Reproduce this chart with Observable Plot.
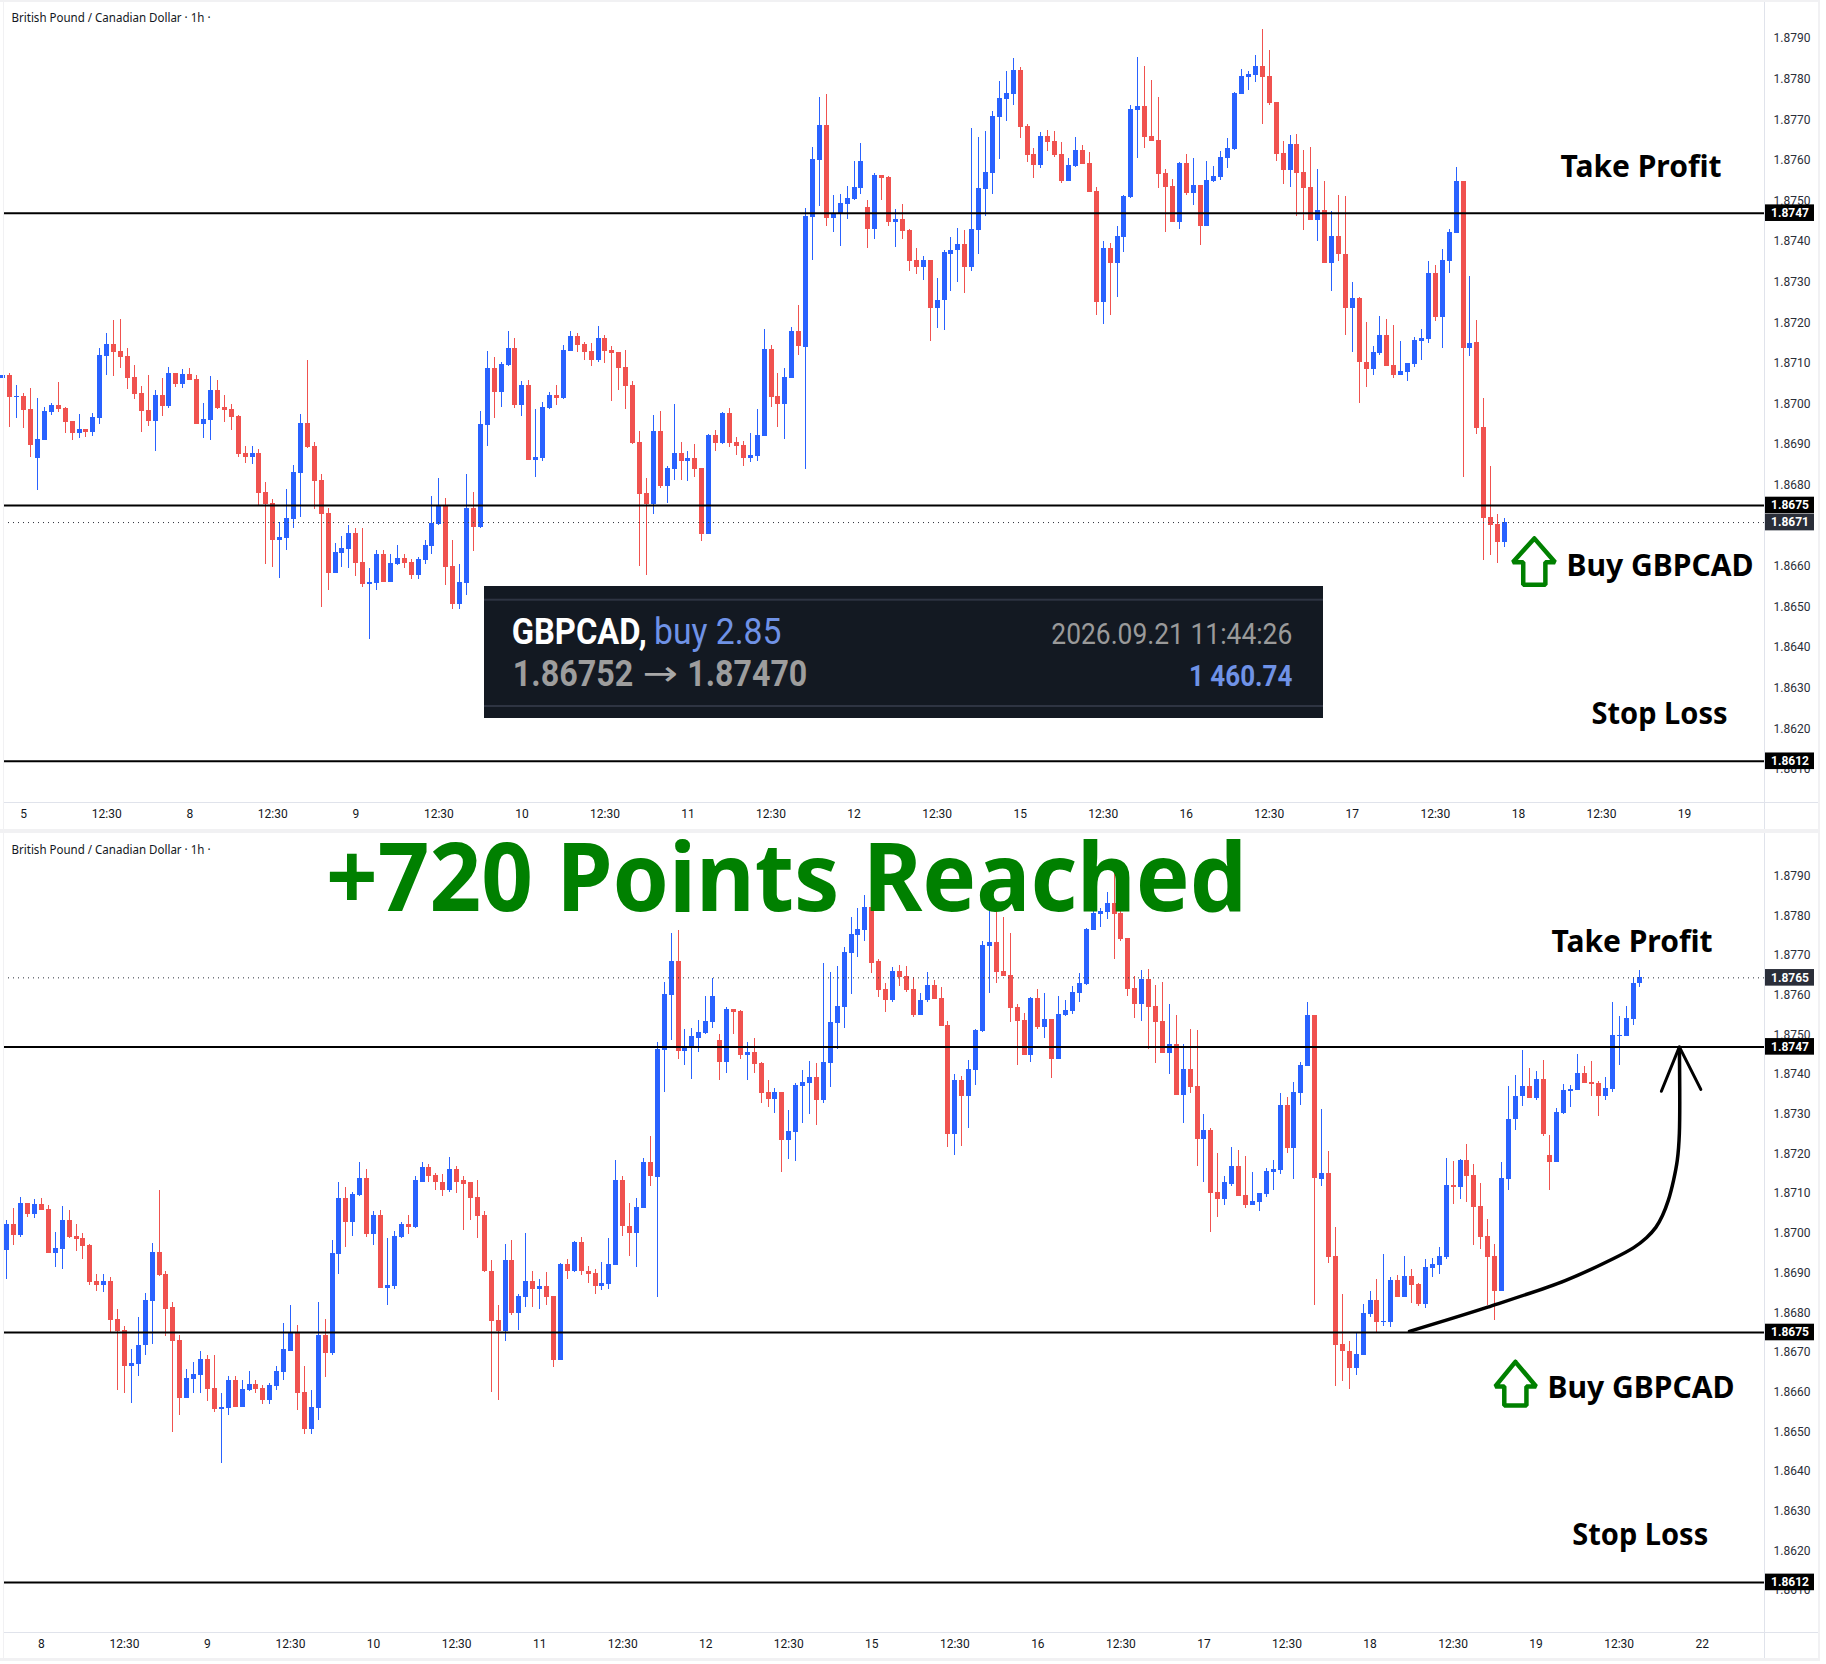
<!DOCTYPE html>
<html><head><meta charset="utf-8">
<script src="https://cdn.jsdelivr.net/npm/d3@7"></script>
<script src="https://cdn.jsdelivr.net/npm/@observablehq/plot@0.6"></script>
<style>
html,body{margin:0;padding:0;background:#fff;width:1826px;height:1664px;overflow:hidden}
#page{position:relative;width:1826px;height:1664px}
#page>svg,#page>div,#page>figure{position:absolute;margin:0}
.strip{background:#f1f1f3}
.sep{background:#e0e3eb}
</style></head><body><div id="page"></div>
<script>
// Values in pips above 1.0000 (8707.5 = 1.87075). First entry is bar index -1.
const directions = ("u "+
"d u d d u u u d d d "+
"u d u u u d d d d d "+
"d u d u d u d d u u "+
"d d d d d u d d d u "+
"u u u d d d d u u u "+
"d d u u d u u d d u "+
"u u u d d u u d u u "+
"d u u d u d u u u d "+
"u u d d d u d d d d "+
"d d d u d u u d u d "+
"d u d u d d d u u u "+
"d d u u d u u u d u "+
"u u u u d u d d u d "+
"d d u d u u u u d u "+
"u u u u u u d d d u "+
"d d d u u d d d u d "+
"u u u u d d d d d u "+
"d u d u u u u u u u "+
"u d d d d u d d d u "+
"d u d d u d d u u d "+
"d u u u u u d u u u "+
"d u d d d d u u u d "+
"u u d u d d u u u u "+
"d u d d d d d u u u "+
"u d u d d u u u u d "+
"d d u u u u u u").replace(/ /g,"");
const highs=[8707.0,
8707.5,8704.6,8702.6,8703.8,8701.4,8699.1,8700.1,8705.3,8699.1,8695.7,
8697.4,8693.7,8697.7,8713.7,8717.4,8720.6,8720.8,8713.7,8709.5,8704.3,
8707.0,8703.3,8706.3,8709.0,8707.5,8708.5,8708.7,8707.0,8700.1,8706.8,
8705.8,8702.1,8699.9,8697.2,8689.5,8689.5,8688.8,8680.7,8676.5,8670.8,
8678.9,8684.9,8697.4,8710.7,8690.5,8682.6,8674.3,8665.6,8667.4,8670.1,
8669.3,8669.3,8659.5,8663.9,8663.9,8662.9,8665.1,8662.9,8661.7,8662.2,
8666.4,8677.2,8681.7,8676.7,8666.4,8660.5,8682.6,8678.2,8698.2,8712.9,
8711.5,8710.2,8717.9,8716.1,8705.5,8705.8,8698.6,8700.4,8702.8,8704.6,
8714.4,8717.9,8717.4,8715.1,8714.9,8719.1,8716.9,8714.2,8712.7,8713.2,
8705.5,8693.2,8681.7,8697.2,8698.2,8684.6,8699.9,8690.5,8688.3,8690.0,
8684.1,8692.5,8693.5,8697.9,8698.9,8691.7,8690.8,8692.7,8698.6,8718.3,
8714.4,8707.5,8708.7,8718.8,8724.3,8748.2,8763.2,8775.5,8776.3,8751.4,
8751.7,8753.6,8759.8,8764.2,8750.2,8756.8,8756.3,8756.1,8748.0,8749.2,
8743.1,8738.4,8736.4,8735.4,8731.0,8737.7,8741.1,8743.3,8742.8,8767.9,
8765.7,8767.2,8772.1,8779.5,8781.9,8785.1,8782.9,8768.9,8763.0,8766.9,
8767.4,8767.2,8764.5,8760.5,8765.7,8763.7,8762.0,8753.4,8740.1,8739.6,
8743.6,8751.4,8773.6,8785.4,8783.1,8779.7,8775.5,8757.8,8755.4,8759.5,
8761.5,8760.5,8753.9,8759.8,8758.6,8762.2,8765.4,8776.8,8782.4,8781.9,
8785.9,8792.2,8787.1,8774.3,8764.7,8766.2,8766.4,8762.5,8763.2,8757.8,
8754.9,8747.5,8751.4,8751.2,8730.0,8726.3,8720.1,8714.2,8721.6,8720.8,
8719.3,8715.4,8710.0,8716.4,8718.3,8735.2,8734.2,8738.1,8743.1,8758.3,
8754.9,8731.3,8720.6,8701.4,8684.6,8672.8,8674.8,8682.1,8685.3,8688.4,
8694.7,8688.9,8689.4,8694.2,8690.9,8687.4,8693.4,8693.7,8696.4,8718.9,
8718.1,8718.6,8722.4,8717.4,8712.6,8703.5,8697.2,8717.9,8736.9,8739.7,
8746.2,8741.5,8740.7,8743.5,8724.6,8731.4,8737.4,8737.2,8745.2,8742.0,
8743.2,8738.2,8739.2,8758.3,8754.6,8757.1,8764.6,8766.2];
const bodyTops=[8707.0,
8707.0,8701.8,8701.8,8698.6,8691.3,8698.2,8699.6,8699.6,8698.9,8695.7,
8693.7,8693.7,8696.7,8711.9,8714.7,8714.7,8712.9,8711.7,8706.5,8702.6,
8698.4,8702.1,8702.1,8707.5,8707.5,8707.3,8707.3,8706.0,8696.2,8703.3,
8703.3,8699.1,8698.6,8696.9,8687.8,8687.8,8687.8,8678.2,8675.5,8667.1,
8671.8,8683.1,8695.2,8695.2,8689.5,8681.2,8673.0,8663.4,8664.4,8668.1,
8668.1,8661.0,8656.0,8662.9,8662.9,8660.7,8661.9,8661.9,8661.0,8661.7,
8665.1,8670.6,8675.0,8675.0,8660.0,8656.0,8674.3,8674.3,8695.0,8708.7,
8708.7,8709.7,8713.7,8713.7,8704.6,8704.6,8686.8,8699.1,8702.1,8702.1,
8713.2,8716.6,8716.6,8714.7,8712.9,8716.1,8716.1,8713.2,8712.7,8709.0,
8704.6,8690.5,8678.0,8693.2,8693.2,8684.1,8687.8,8687.8,8686.6,8686.6,
8684.1,8692.2,8692.2,8697.7,8697.7,8690.5,8689.8,8687.3,8692.2,8713.4,
8713.4,8701.8,8706.5,8717.9,8717.9,8746.3,8760.3,8768.6,8768.6,8747.0,
8749.5,8750.7,8753.4,8759.8,8748.5,8756.3,8756.3,8755.9,8745.5,8745.5,
8742.8,8735.4,8735.4,8735.4,8725.6,8737.2,8737.9,8739.4,8739.4,8743.1,
8753.1,8757.1,8770.9,8775.3,8776.5,8782.2,8782.2,8768.4,8761.5,8765.9,
8765.9,8764.7,8761.5,8758.8,8762.5,8762.5,8759.3,8752.4,8738.4,8738.4,
8741.3,8751.2,8772.6,8773.3,8773.3,8765.9,8765.0,8756.8,8753.6,8759.3,
8759.3,8753.9,8753.9,8755.1,8756.1,8760.8,8763.0,8776.5,8780.7,8781.2,
8783.1,8783.1,8780.7,8774.3,8761.8,8764.0,8764.0,8757.1,8753.4,8747.7,
8747.7,8741.3,8741.3,8736.9,8725.9,8725.9,8710.2,8712.7,8716.9,8716.9,
8709.5,8708.0,8710.0,8715.6,8716.1,8732.2,8732.2,8735.4,8742.3,8754.9,
8754.9,8715.0,8715.1,8694.2,8672.0,8670.3,8669.5,8679.8,8683.1,8683.1,
8677.8,8688.1,8688.1,8689.1,8689.1,8687.1,8691.4,8692.1,8694.2,8712.1,
8712.1,8718.4,8718.4,8714.6,8706.8,8699.2,8694.2,8713.8,8728.8,8734.6,
8736.9,8736.9,8738.9,8738.9,8719.5,8730.4,8735.9,8736.2,8740.4,8740.4,
8737.9,8737.7,8736.4,8749.8,8749.8,8754.1,8763.1,8764.6];
const bodyBottoms=[8706.4,
8701.6,8701.6,8698.4,8689.8,8686.6,8691.0,8697.9,8698.6,8695.4,8692.7,
8692.7,8693.0,8693.0,8696.4,8711.7,8712.7,8711.5,8706.3,8702.3,8698.2,
8695.7,8695.7,8699.4,8699.4,8704.8,8704.8,8705.8,8695.0,8695.0,8695.9,
8698.9,8698.4,8696.7,8687.6,8686.8,8686.8,8678.0,8675.2,8666.4,8666.4,
8666.9,8671.6,8682.9,8689.3,8680.9,8672.8,8658.3,8658.3,8663.2,8664.2,
8660.7,8655.5,8655.5,8655.8,8656.0,8656.0,8660.5,8660.7,8657.8,8657.8,
8661.5,8664.9,8670.3,8659.7,8650.6,8650.6,8655.8,8669.6,8669.6,8694.7,
8702.8,8702.8,8709.5,8699.6,8699.6,8686.1,8686.1,8686.6,8698.9,8701.4,
8701.4,8712.9,8714.4,8712.7,8710.7,8710.7,8712.9,8712.4,8708.7,8704.3,
8690.3,8677.7,8675.2,8675.2,8679.7,8679.7,8683.9,8685.8,8685.8,8683.9,
8667.9,8667.9,8690.3,8690.3,8690.3,8689.5,8686.6,8686.6,8687.1,8692.0,
8701.6,8699.9,8699.9,8706.3,8714.2,8714.0,8746.0,8760.0,8745.8,8745.8,
8746.8,8749.2,8750.4,8753.1,8743.1,8743.1,8755.6,8744.8,8744.8,8742.6,
8735.2,8733.7,8733.7,8723.4,8723.4,8725.4,8736.9,8737.7,8733.5,8733.5,
8742.8,8752.9,8756.8,8770.6,8775.0,8776.3,8768.1,8761.3,8758.8,8758.8,
8764.5,8761.3,8754.9,8754.9,8758.6,8759.0,8752.2,8724.9,8724.9,8734.5,
8734.5,8741.1,8750.9,8772.3,8765.7,8764.7,8756.6,8753.4,8744.8,8744.8,
8751.9,8751.9,8743.8,8743.8,8754.9,8755.9,8760.5,8762.7,8776.3,8780.4,
8780.9,8780.4,8774.0,8761.5,8757.6,8757.6,8756.8,8753.1,8745.3,8745.3,
8734.7,8734.7,8736.7,8723.6,8723.6,8710.1,8708.5,8708.5,8712.4,8709.2,
8707.0,8707.0,8707.8,8709.7,8715.4,8715.8,8721.4,8721.4,8735.2,8742.1,
8713.7,8713.6,8694.0,8671.8,8670.1,8665.9,8665.9,8669.2,8679.5,8677.5,
8677.5,8677.5,8683.8,8683.8,8686.8,8682.1,8682.1,8691.1,8691.9,8693.9,
8711.6,8711.6,8714.3,8706.5,8698.9,8693.9,8685.3,8685.3,8713.5,8728.6,
8734.4,8734.1,8734.1,8724.8,8717.8,8717.8,8730.1,8735.7,8735.9,8737.7,
8737.4,8734.4,8734.4,8736.2,8749.5,8749.5,8753.8,8762.9];
const lows=[8706.4,
8694.2,8696.4,8694.0,8686.8,8678.7,8691.0,8697.2,8697.9,8692.7,8691.0,
8691.5,8691.7,8692.0,8695.0,8707.0,8706.8,8708.7,8703.6,8701.1,8693.0,
8694.5,8688.3,8696.9,8698.9,8704.1,8703.8,8705.8,8695.0,8691.5,8691.0,
8698.6,8695.4,8693.5,8686.8,8685.3,8685.1,8674.8,8660.5,8659.7,8657.0,
8663.9,8669.3,8672.0,8689.0,8674.0,8649.9,8654.1,8658.3,8659.7,8659.5,
8657.5,8654.8,8642.0,8654.1,8656.0,8656.0,8660.2,8659.5,8656.8,8656.8,
8660.5,8662.9,8670.1,8655.3,8649.4,8649.4,8652.8,8663.7,8669.3,8689.5,
8696.4,8699.1,8709.2,8698.9,8696.9,8686.1,8681.9,8685.8,8698.6,8699.6,
8701.1,8712.9,8712.7,8710.7,8709.2,8710.2,8710.0,8700.6,8703.3,8698.6,
8690.0,8660.0,8657.8,8672.8,8679.2,8675.5,8681.2,8681.2,8680.9,8681.9,
8666.1,8667.9,8688.3,8690.0,8689.3,8687.3,8684.6,8685.6,8685.8,8692.0,
8699.1,8694.2,8691.3,8706.3,8711.9,8683.9,8735.4,8748.7,8743.8,8742.3,
8738.9,8745.5,8750.2,8751.7,8738.4,8740.4,8750.2,8743.8,8738.6,8740.4,
8732.7,8731.8,8730.3,8715.3,8718.5,8718.0,8727.6,8730.0,8727.3,8732.7,
8736.7,8746.3,8751.7,8760.3,8769.6,8773.6,8765.4,8759.5,8755.6,8758.1,
8762.2,8760.8,8754.4,8754.9,8758.3,8759.0,8752.2,8721.7,8719.7,8721.9,
8726.3,8737.2,8750.7,8760.5,8763.0,8764.7,8753.1,8742.3,8744.8,8743.1,
8751.4,8749.0,8739.1,8743.8,8754.6,8755.1,8758.1,8762.5,8776.3,8777.2,
8779.2,8768.9,8773.6,8759.8,8754.1,8753.4,8746.3,8742.8,8745.3,8740.1,
8734.7,8727.8,8735.2,8716.8,8712.8,8700.2,8704.1,8707.0,8711.9,8709.2,
8706.3,8707.0,8705.5,8709.0,8710.7,8714.8,8720.2,8713.6,8732.2,8742.1,
8681.9,8711.8,8692.5,8661.5,8662.7,8660.7,8664.2,8669.2,8678.8,8674.7,
8676.5,8676.3,8683.8,8683.8,8682.3,8681.6,8681.1,8688.9,8689.6,8693.4,
8707.3,8708.5,8707.8,8696.9,8695.9,8681.8,8678.0,8685.3,8710.9,8725.8,
8731.9,8734.1,8733.6,8724.3,8710.7,8717.8,8729.9,8731.6,8735.9,8737.7,
8734.4,8729.4,8733.4,8735.4,8742.2,8749.5,8752.5,8761.9];
// The last bar of the upper chart is still forming at 1.8671.
const liveBar={high:8671.8,top:8670.8,bottom:8665.9,low:8664.7};
const liveBarIndex=216;
const priceTicks=[8790,8780,8770,8760,8750,8740,8730,8720,8710,8700,8690,8680,8670,8660,8650,8640,8630,8620,8610];
const timeTickBars=[2,14,26,38,50,62,74,86,98,110,122,134,146,158,170,182,194,206,218,230,242,254,266];
const timeTickLabels=["5","12:30","8","12:30","9","12:30","10","12:30","11","12:30","12","12:30","15","12:30","16","12:30","17","12:30","18","12:30","19","12:30","22"];
const levels=[8747,8675,8612];
const topArrow=[[220.3,8666.9],[223.3,8661],[221.9,8661],[221.9,8655.5],[218.7,8655.5],[218.7,8661],[217.2,8661],[220.3,8666.9]];
const bottomArrow=[[239,8667.6],[242,8661.4],[240.6,8661.4],[240.6,8656.6],[237.4,8656.6],[237.4,8661.4],[236.1,8661.4],[239,8667.6]];
const curve=[[223.7,8675.3],[235,8681.4],[246.2,8688.1],[253.2,8693.65],[256.1,8696.4],[257.95,8698.9],[259.3,8701.5],[260.26,8704.5],[261.1,8708.3],[261.85,8713.3],[262.4,8718.4],[262.7,8725.2],[262.7,8747]];
const curveHead=[[260.1,8735.8],[262.7,8747],[265.8,8736.3]];

const n=highs.length;
if([bodyTops.length,bodyBottoms.length,lows.length,directions.length].some(v=>v!==n))
  throw new Error("len "+[n,bodyTops.length,bodyBottoms.length,lows.length,directions.length].join());
const P=v=>1+v/1e4;
const bars=highs.map((h,k)=>({i:k-1,high:P(h),top:P(bodyTops[k]),bottom:P(bodyBottoms[k]),low:P(lows[k]),up:directions[k]==="u"}));

const BLUE="#2962FF",RED="#F0524F",GREEN="#008000";
const FIT={"Take Profit":161,"Buy GBPCAD":187,"Stop Loss":136,"+720 Points Reached":921,"British Pound / Canadian Dollar · 1h ·":199};
const page=document.getElementById("page");

function panel(cfg){
  const {top,height,xa,xb,y8675,ppp,marginBottom}=cfg;
  const iOf=px=>(px-xb)/xa;
  const pOf=y=>8675+(y8675-y)/ppp;
  const data=cfg.bars.filter(d=>d.i>=cfg.first&&d.i<=cfg.last);
  const rules=[];
  for(const [set,col] of [[data.filter(d=>d.up),BLUE],[data.filter(d=>!d.up),RED]]){
    rules.push(Plot.ruleX(set,{x:"i",y1:"low",y2:"high",stroke:col,strokeWidth:1,shapeRendering:"crispEdges"}));
    rules.push(Plot.ruleX(set,{x:"i",y1:"bottom",y2:"top",stroke:col,strokeWidth:5,shapeRendering:"crispEdges"}));
  }
  const x1=iOf(3),x2=iOf(1764);
  const lab=(t,px,y,size,fill,weight)=>Plot.text([{i:iOf(px),p:P(pOf(y))}],{x:"i",y:"p",text:()=>t,fontSize:size,fill,fontWeight:weight,textAnchor:"start",lineAnchor:"bottom",fontFamily:"'Noto Sans'"});
  const tag=(v,shown,col)=>[
    Plot.rect([v],{x1:()=>iOf(1765),x2:()=>iOf(1814),y1:d=>P(d-8.3/ppp),y2:d=>P(d+8.3/ppp),fill:col}),
    Plot.text([v],{x:()=>iOf(1789.5),y:d=>P(d),text:()=>shown,fill:"#fff",fontWeight:700,fontSize:12,textAnchor:"middle"})
  ];
  const ticks=timeTickBars.map((b,k)=>({b,t:timeTickLabels[k]})).filter(d=>{const px=xa*d.b+xb;return px>0&&px<1760;});
  const tickText=new Map(ticks.map(d=>[d.b,d.t]));
  const svg=Plot.plot({
    width:1826,height,marginTop:0,marginLeft:0,marginRight:62,marginBottom,
    x:{domain:[iOf(0),iOf(1826)],range:[0,1826]},
    y:{domain:[P(pOf(height)),P(pOf(0))],range:[height,0]},
    style:{fontFamily:"Roboto",fontSize:"12px",background:"#fff",color:"#131722",overflow:"visible"},
    marks:[
      ...rules,
      Plot.ruleY(levels,{y:d=>P(d),x1:()=>x1,x2:()=>x2,stroke:"#000",strokeWidth:2}),
      Plot.ruleY([cfg.current],{y:d=>P(d),x1:()=>x1,x2:()=>x2,stroke:"#2a2e39",strokeWidth:1,strokeDasharray:"1,4"}),
      ...cfg.extra(lab,iOf,pOf),
      Plot.line(cfg.arrow,{x:d=>d[0],y:d=>P(d[1]),stroke:GREEN,strokeWidth:4.5,strokeLinejoin:"miter"}),
      Plot.axisY(priceTicks.map(P),{anchor:"right",tickSize:0,tickPadding:9,tickFormat:d=>d.toFixed(4),label:null,fill:"#2a2e39",fontSize:12}),
      Plot.axisX(ticks.map(d=>d.b),{anchor:"bottom",tickSize:0,tickPadding:7,tickFormat:d=>tickText.get(d),label:null,fill:"#131722",fontSize:12}),
      ...levels.flatMap(v=>tag(v,P(v).toFixed(4),"#000")),
      ...tag(cfg.current,cfg.currentLabel,"#2a2e39")
    ]
  });
  svg.querySelectorAll("text").forEach(t=>{
    const w=FIT[t.textContent];
    if(w){t.setAttribute("textLength",w);t.setAttribute("lengthAdjust","spacingAndGlyphs");}
  });
  svg.style.left="0";svg.style.top=top+"px";svg.style.position="absolute";
  page.appendChild(svg);
}

const topBars=bars.map(d=>d.i===liveBarIndex?{...d,high:P(liveBar.high),top:P(liveBar.top),bottom:P(liveBar.bottom),low:P(liveBar.low)}:d);
panel({top:0,height:829,xa:6.92,xb:9.33,y8675:505,ppp:4.06,marginBottom:27,bars:topBars,first:-1,last:216,
  current:8670.8,currentLabel:"1.8671",arrow:topArrow,
  extra:(lab)=>[
    lab("British Pound / Canadian Dollar · 1h ·",11,21.5,12,"#131722",400),
    lab("Take Profit",1560,176,31,"#000",700),
    lab("Buy GBPCAD",1566,575,31,"#000",700),
    lab("Stop Loss",1591,723,31,"#000",700)
  ]});
panel({top:833,height:825,xa:6.92,xb:-139.02,y8675:499,ppp:3.967,marginBottom:26,bars,first:21,last:257,
  current:8764.4,currentLabel:"1.8765",arrow:bottomArrow,
  extra:(lab)=>[
    Plot.line(curve,{x:d=>d[0],y:d=>P(d[1]),stroke:"#000",strokeWidth:3.5,curve:"catmull-rom"}),
    Plot.line(curveHead,{x:d=>d[0],y:d=>P(d[1]),stroke:"#000",strokeWidth:3,strokeLinejoin:"miter"}),
    lab("British Pound / Canadian Dollar · 1h ·",11,20.5,12,"#131722",400),
    lab("+720 Points Reached",325.5,77.7,95,GREEN,700),
    lab("Take Profit",1551,118.7,31,"#000",700),
    lab("Buy GBPCAD",1547,564.3,31,"#000",700),
    lab("Stop Loss",1571.7,711,31,"#000",700)
  ]});

// panel chrome
function div(cls,l,t,w,h){const d=document.createElement("div");d.className=cls;d.style.cssText=`left:${l}px;top:${t}px;width:${w}px;height:${h}px`;page.appendChild(d);}
div("strip",0,0,1820,2);div("strip",0,829,1820,4);div("strip",0,1658,1820,3);
div("strip",3,0,1,1661);div("strip",1818,0,2,1661);
div("sep",1764,2,1,827);div("sep",1764,833,1,825);
div("sep",4,802,1814,1);div("sep",4,1632,1814,1);

// trade result card
const card=`<svg xmlns="http://www.w3.org/2000/svg" width="1826" height="1664" style="left:0;top:0;pointer-events:none">
<rect x="484" y="586" width="839" height="132" fill="#131922"/>
<rect x="484" y="598.7" width="839" height="2" fill="#2e3442"/><rect x="484" y="705" width="839" height="2" fill="#2e3442"/>
<g font-family="Roboto">
<text x="511.7" y="644" font-size="36" font-weight="700" fill="#fff" textLength="135" lengthAdjust="spacingAndGlyphs">GBPCAD,</text>
<text x="654" y="644" font-size="36" fill="#6F92E6" textLength="127.5" lengthAdjust="spacingAndGlyphs">buy 2.85</text>
<text x="512.8" y="685.7" font-size="37" font-weight="700" fill="#9d9d9d" textLength="120.6" lengthAdjust="spacingAndGlyphs">1.86752</text>
<text x="642.5" y="685" font-size="34" fill="#a8a8a8" font-family="'DejaVu Sans'" textLength="35.5" lengthAdjust="spacingAndGlyphs">→</text>
<text x="687.3" y="685.7" font-size="37" font-weight="700" fill="#9d9d9d" textLength="120" lengthAdjust="spacingAndGlyphs">1.87470</text>
<text x="1051.3" y="644" font-size="30" fill="#9a9a9a" textLength="241" lengthAdjust="spacingAndGlyphs">2026.09.21 11:44:26</text>
<text x="1189" y="685.7" font-size="29" font-weight="700" fill="#6F92E6" textLength="103.4" lengthAdjust="spacingAndGlyphs">1 460.74</text>
</g></svg>`;
page.insertAdjacentHTML("beforeend",card);
</script></body></html>
